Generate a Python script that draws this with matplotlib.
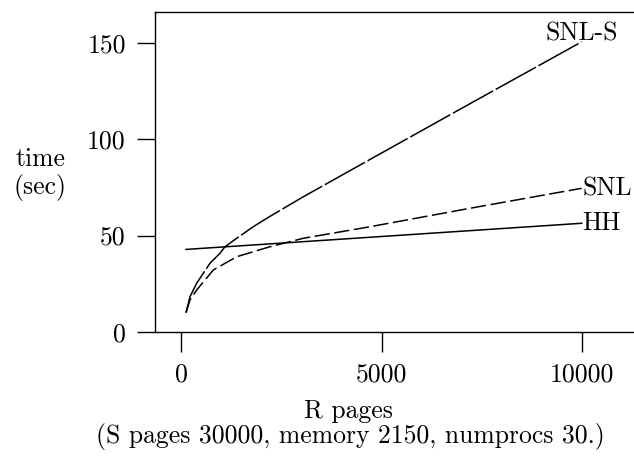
import matplotlib
matplotlib.use("Agg")
import matplotlib.pyplot as plt

plt.rcParams['font.family'] = ['cmr10', 'DejaVu Serif']
plt.rcParams['axes.formatter.use_mathtext'] = True

# Data (R pages vs time in sec)
r_snls = [125, 224, 391, 556, 723, 972, 1097, 1388, 1800, 2218, 3049, 4711, 7203, 9987]
t_snls = [9.9, 18.2, 25.2, 30.4, 35.6, 40.8, 44.2, 48.6, 54.6, 60.0, 70.2, 89.6, 118.6, 150.8]

r_snl = [125, 224, 391, 805, 1388, 2218, 3049, 4711, 7203, 9987]
t_snl = [9.9, 16.5, 21.7, 32.1, 39.0, 44.2, 48.6, 54.6, 64.2, 74.6]

r_hh = [125, 9987]
t_hh = [42.8, 56.4]

xticks = [0, 5000, 10000]
yticks = [0, 50, 100, 150]

FS = 18.5

fig = plt.figure(figsize=(6.34, 4.57), dpi=100)
ax = fig.add_axes([155/634, 1-331.7/457, 1-155/634, (331.7-12)/457])

ax.plot(r_snls, t_snls, color='black', lw=1.1, dashes=(30, 2))
ax.plot(r_snl, t_snl, color='black', lw=1.1, dashes=(10, 3))
ax.plot(r_hh, t_hh, color='black', lw=1.1)

ax.set_xlim(-648, 11291)
ax.set_ylim(0, 166.3)
ax.set_xticks(xticks)
ax.set_yticks(yticks)
ax.set_xticklabels([str(v) for v in xticks])
ax.set_yticklabels([str(v) for v in yticks])
ax.spines['right'].set_visible(False)
for s in ['left', 'top', 'bottom']:
    ax.spines[s].set_linewidth(1.0)
ax.tick_params(axis='x', direction='out', length=14.5, width=1.0, pad=8, labelsize=FS)
ax.tick_params(axis='y', direction='out', length=13, width=1.0, pad=8, labelsize=FS)

ax.text(r_snls[-1], t_snls[-1] + 0.5, 'SNL-S', ha='center', va='baseline', fontsize=FS)
ax.text(r_snl[-1] + 20, t_snl[-1], 'SNL', ha='left', va='center', fontsize=FS)
ax.text(r_hh[-1] + 20, t_hh[-1], 'HH', ha='left', va='center', fontsize=FS)

fig.text(40/634, 1-174/457, 'time\n(sec)', ha='center', va='center', fontsize=FS, linespacing=1.15)
fig.text(348/634, 1-411/457, 'R pages', ha='center', va='center', fontsize=FS)
fig.text(350/634, 1-437/457, '(S pages 30000, memory 2150, numprocs 30.)', ha='center', va='center', fontsize=FS)

fig.savefig('out.png', dpi=100)
